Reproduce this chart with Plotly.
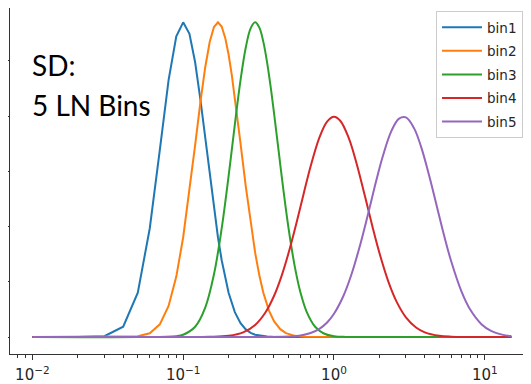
import plotly.graph_objects as go

# ---- data ----
names = ["bin1", "bin2", "bin3", "bin4", "bin5"]
colors = ["#1f77b4", "#ff7f0e", "#2ca02c", "#d62728", "#9467bd"]

bin1_x = [0.01, 0.02, 0.03, 0.04, 0.05, 0.06, 0.07, 0.08, 0.09, 0.10, 0.11, 0.12, 0.13, 0.14,
          0.15, 0.16, 0.17, 0.18, 0.19, 0.20, 0.22, 0.24, 0.26, 0.28, 0.30, 0.33, 0.36, 0.40, 15]
bin1_y = [0, 0, 0.0031, 0.0371, 0.1605, 0.3932, 0.6783, 0.9304, 1.0894, 1.14, 1.0985, 0.9953,
          0.8609, 0.7183, 0.5827, 0.4628, 0.3614, 0.2782, 0.2120, 0.1605, 0.0902, 0.0499, 0.0274,
          0.0150, 0.0083, 0.0034, 0.0014, 0.0004, 0]

bin2_x = [0.01, 0.05, 0.06, 0.07, 0.08, 0.09, 0.10, 0.11, 0.12, 0.13, 0.14, 0.15, 0.16, 0.17,
          0.18, 0.19, 0.20, 0.21, 0.22, 0.24, 0.26, 0.28, 0.30, 0.32, 0.34, 0.37, 0.40, 0.44,
          0.48, 0.55, 0.65, 15]
bin2_y = [0, 0.0025, 0.0136, 0.0459, 0.1123, 0.2188, 0.3614, 0.5262, 0.6951, 0.8499, 0.9774,
          1.0696, 1.1230, 1.14, 1.1248, 1.0837, 1.0234, 0.9500, 0.8689, 0.7014, 0.5453, 0.4122,
          0.3054, 0.2226, 0.1603, 0.0964, 0.0573, 0.0284, 0.0140, 0.0041, 0.0007, 0]

bin3_x = [0.01, 0.05, 0.09, 0.10, 0.12, 0.14, 0.16, 0.18, 0.20, 0.22, 0.24, 0.26, 0.28, 0.30,
          0.32, 0.34, 0.36, 0.38, 0.40, 0.43, 0.46, 0.50, 0.55, 0.60, 0.66, 0.75, 0.85, 1.0,
          1.2, 2.0, 15]
bin3_y = [0, 0, 0.0031, 0.0083, 0.0371, 0.1065, 0.2272, 0.3932, 0.5827, 0.7698, 0.9304, 1.0487,
          1.1182, 1.14, 1.1208, 1.0693, 0.9953, 0.9073, 0.8129, 0.6715, 0.5405, 0.3927, 0.2542,
          0.1603, 0.0902, 0.0371, 0.0136, 0.0031, 0.0004, 0, 0]

bin4_x = [0.01, 0.08, 0.15, 0.2, 0.25, 0.3, 0.35, 0.4, 0.45, 0.5, 0.56, 0.63, 0.7, 0.8, 0.9,
          1.0, 1.1, 1.25, 1.4, 1.6, 1.8, 2.0, 2.3, 2.6, 3.0, 3.5, 4.0, 5.0, 6.0, 7.5, 15]
bin4_y = [0, 0, 0.0006, 0.0045, 0.0170, 0.0438, 0.0879, 0.1486, 0.2226, 0.3049, 0.4071, 0.5203,
          0.6185, 0.7223, 0.7804, 0.798, 0.7836, 0.7223, 0.6362, 0.5128, 0.3994, 0.3049, 0.1989,
          0.1282, 0.0712, 0.0344, 0.0170, 0.0045, 0.0013, 0.0003, 0]

bin5_x = [0.01, 0.2, 0.5, 0.6, 0.7, 0.8, 0.9, 1.0, 1.15, 1.3, 1.5, 1.7, 1.9, 2.1, 2.4, 2.7,
          3.0, 3.4, 3.8, 4.3, 4.8, 5.4, 6.0, 7.0, 8.0, 9.5, 11, 13, 15]
bin5_y = [0, 0, 0.0017, 0.0057, 0.0144, 0.0296, 0.0528, 0.0844, 0.1468, 0.2237, 0.3391, 0.4560,
          0.5632, 0.6523, 0.7458, 0.7911, 0.7955, 0.7559, 0.6852, 0.5797, 0.4747, 0.3629, 0.2724,
          0.1653, 0.0993, 0.0464, 0.0220, 0.0085, 0.0034]

series_x = [bin1_x, bin2_x, bin3_x, bin4_x, bin5_x]
series_y = [bin1_y, bin2_y, bin3_y, bin4_y, bin5_y]
shapes_ = ["linear", "linear", "spline", "spline", "spline"]

x_tick_vals = [0.01, 0.1, 1, 10]
x_tick_text = ["10<sup>−2</sup>", "10<sup>−1</sup>", "10<sup>0</sup>", "10<sup>1</sup>"]
x_minor_vals = [m * 10.0 ** e for e in (-3, -2, -1, 0, 1) for m in range(2, 10)]
y_tick_vals = [0, 0.2, 0.4, 0.6, 0.8, 1.0]

fig = go.Figure()
for n, c, xs, ys, sh in zip(names, colors, series_x, series_y, shapes_):
    fig.add_trace(go.Scatter(x=xs, y=ys, mode="lines", name=n, legendgroup=n,
                             line=dict(color=c, width=2, shape=sh)))

axis_col = "#333333"
# the page body has an 8px default margin, so the figure is sized/offset to compensate
fig.update_layout(
    width=523, height=376,
    margin=dict(l=2, r=0, t=0, b=30, autoexpand=False),
    paper_bgcolor="white", plot_bgcolor="white",
    font=dict(family="DejaVu Sans", color="#262626"),
    showlegend=True,
    legend=dict(x=0.8177, xanchor="left", y=0.9913, yanchor="top",
                bgcolor="rgba(255,255,255,0.85)", bordercolor="#cccccc", borderwidth=1,
                font=dict(family="DejaVu Sans", size=13.5, color="#262626"),
                tracegroupgap=3, itemwidth=40),
    xaxis=dict(type="log", range=[-2.1485, 1.3064], showgrid=False, zeroline=False,
               automargin=False,
               showline=True, linecolor=axis_col, linewidth=1.2, mirror=True,
               tickmode="array", tickvals=x_tick_vals, ticktext=x_tick_text,
               ticks="outside", ticklen=5, tickcolor=axis_col, tickwidth=1,
               ticklabelstandoff=2,
               tickfont=dict(family="DejaVu Sans", size=15, color="#262626"),
               minor=dict(tickvals=x_minor_vals, ticks="outside", ticklen=2.5,
                          tickcolor=axis_col, tickwidth=1, showgrid=False)),
    yaxis=dict(range=[-0.0616, 1.192], showgrid=False, zeroline=False,
               automargin=False,
               showline=True, linecolor=axis_col, linewidth=1.2, mirror=False,
               tickmode="array", tickvals=y_tick_vals, showticklabels=False,
               ticks="outside", ticklen=5, tickcolor=axis_col, tickwidth=1),
    annotations=[
        dict(text="SD:", xref="paper", yref="paper", x=0.0393, y=0.8353,
             xanchor="left", yanchor="middle", showarrow=False,
             font=dict(family="Lato", size=28, color="black")),
        dict(text="5 LN Bins", xref="paper", yref="paper", x=0.0393, y=0.7197,
             xanchor="left", yanchor="middle", showarrow=False,
             font=dict(family="Lato", size=28, color="black")),
    ],
)

fig.write_html("out.html")
